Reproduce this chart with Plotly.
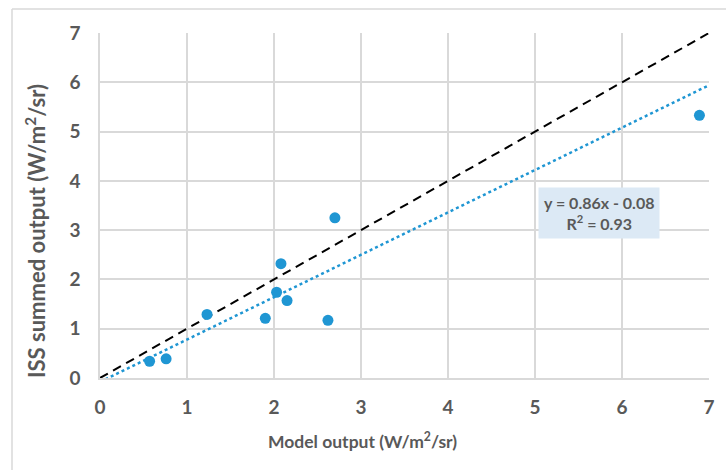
import plotly.graph_objects as go

# Data
model_output = [0.57, 0.76, 1.23, 1.90, 2.03, 2.15, 2.08, 2.62, 2.70, 6.89]
iss_output = [0.34, 0.39, 1.29, 1.21, 1.74, 1.57, 2.32, 1.17, 3.25, 5.33]
slope = 0.86
intercept = -0.08
r2 = 0.93
axis_ticks = [0, 1, 2, 3, 4, 5, 6, 7]
x_title = "Model output (W/m<sup>2</sup>/sr)"
y_title = "ISS summed output (W/m<sup>2</sup>/sr)"

W, H = 726, 470
L, R, T, B = 100, 17, 33, 92
pw, ph = W - L - R, H - T - B

def px_to_paper_x(px):
    return (px - L) / pw

def px_to_paper_y(py):
    return (H - B - py) / ph

fig = go.Figure()

# 1:1 line
fig.add_trace(go.Scatter(
    x=[axis_ticks[0], axis_ticks[-1]], y=[axis_ticks[0], axis_ticks[-1]],
    mode="lines", line=dict(color="black", width=2, dash="9px,6px"),
    hoverinfo="skip", showlegend=False))

# linear trendline
tx = [axis_ticks[0], axis_ticks[-1]]
ty = [slope * v + intercept for v in tx]
fig.add_trace(go.Scatter(
    x=tx, y=ty, mode="lines",
    line=dict(color="#1f96d3", width=2.5, dash="dot"),
    hoverinfo="skip", showlegend=False))

fig.add_trace(go.Scatter(
    x=model_output, y=iss_output, mode="markers",
    marker=dict(color="#1f96d3", size=11),
    showlegend=False))

font_family = "Lato"
tick_font = dict(family=font_family, size=19, color="#595959", weight="bold")

fig.update_xaxes(
    range=[0, 7], tickvals=axis_ticks, ticks="", showgrid=True,
    gridcolor="#d9d9d9", gridwidth=1.5, showline=True, linecolor="#d9d9d9",
    linewidth=1.5, zeroline=False, tickfont=tick_font, ticklabelstandoff=11)
fig.update_yaxes(
    range=[0, 7], tickvals=axis_ticks, ticks="", showgrid=True,
    gridcolor="#d9d9d9", gridwidth=1.5, showline=True, linecolor="#d9d9d9",
    linewidth=1.5, zeroline=False, tickfont=tick_font, ticklabelstandoff=14)

annotations = [
    dict(text=x_title, xref="paper", yref="paper",
         x=px_to_paper_x(362), y=px_to_paper_y(440), showarrow=False,
         font=dict(family=font_family, size=17.5, color="#595959", weight="bold"),
         xanchor="center", yanchor="middle"),
    dict(text=y_title, xref="paper", yref="paper", textangle=-90,
         x=px_to_paper_x(35), y=px_to_paper_y(231), showarrow=False,
         font=dict(family=font_family, size=22, color="#595959", weight="bold"),
         xanchor="center", yanchor="middle"),
    dict(text=f"y = {slope}x - {abs(intercept):.2f}<br>R<sup>2</sup> = {r2}",
         x=5.74, y=3.35, xref="x", yref="y", showarrow=False,
         bgcolor="#dce9f5", borderpad=5,
         font=dict(family=font_family, size=16, color="#595959", weight="bold"),
         align="center", xanchor="center", yanchor="middle"),
]

shapes = [
    dict(type="line", xref="paper", yref="paper",
         x0=px_to_paper_x(12), x1=px_to_paper_x(W + 5),
         y0=px_to_paper_y(9), y1=px_to_paper_y(9),
         line=dict(color="#d9d9d9", width=1.5)),
    dict(type="line", xref="paper", yref="paper",
         x0=px_to_paper_x(12), x1=px_to_paper_x(12),
         y0=px_to_paper_y(9), y1=px_to_paper_y(H + 5),
         line=dict(color="#d9d9d9", width=1.5)),
]

fig.update_layout(
    width=W, height=H, margin=dict(l=L, r=R, t=T, b=B),
    paper_bgcolor="white", plot_bgcolor="white",
    annotations=annotations, shapes=shapes, showlegend=False)

fig.write_html("out.html")
